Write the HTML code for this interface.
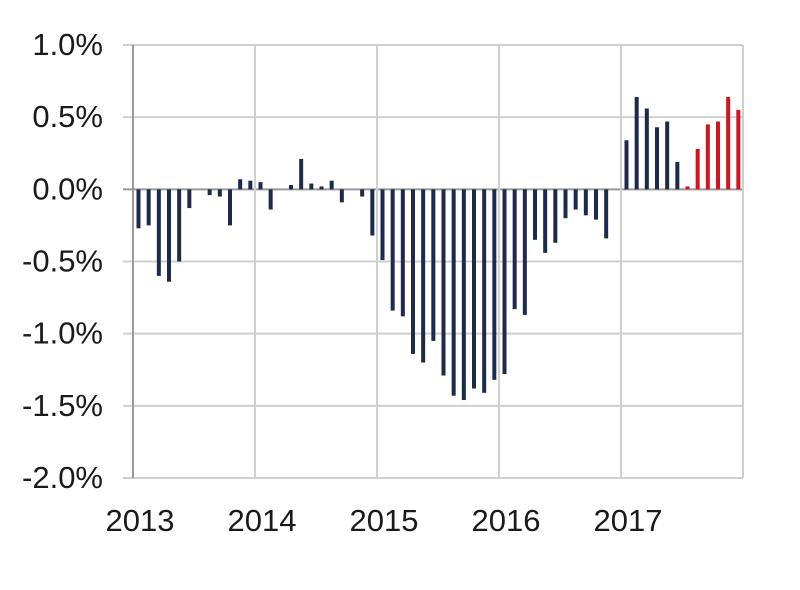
<!DOCTYPE html>
<html><head><meta charset="utf-8"><style>
body{margin:0;background:#fff;}
svg text{font-family:"Liberation Sans",sans-serif;font-size:31px;fill:#1a1a1a;}
</style></head><body>
<svg id="chart" width="800" height="585" viewBox="0 0 800 585" xmlns="http://www.w3.org/2000/svg">
<g id="grid"></g>
<g id="bars"></g>
<g id="axes"></g>
</svg>
<script>
const years = ["2013","2014","2015","2016","2017"];
const yTicks = [1.0,0.5,0.0,-0.5,-1.0,-1.5,-2.0];
const yTickLabels = ["1.0%","0.5%","0.0%","-0.5%","-1.0%","-1.5%","-2.0%"];
const values = [
-0.27,-0.25,-0.60,-0.64,-0.50,-0.13,0,-0.04,-0.05,-0.25,0.07,0.06,
0.05,-0.14,0,0.03,0.21,0.04,0.02,0.06,-0.09,0,-0.05,-0.32,
-0.49,-0.84,-0.88,-1.14,-1.20,-1.05,-1.29,-1.43,-1.46,-1.38,-1.41,-1.32,
-1.28,-0.83,-0.87,-0.35,-0.44,-0.37,-0.20,-0.14,-0.18,-0.21,-0.34,0,
0.34,0.64,0.56,0.43,0.47,0.19,0.02,0.28,0.45,0.47,0.64,0.55];
const forecastStart = 54;
const X0=133,X1=743,Y0=45,Y1=478,VMAX=1.0,VMIN=-2.0;
const months = values.length;
function xScale(i){return X0+(X1-X0)*i/months;}
function yScale(v){return Y0+(VMAX-v)/(VMAX-VMIN)*(Y1-Y0);}
const NS="http://www.w3.org/2000/svg";
function mk(tag,attrs,parent){const e=document.createElementNS(NS,tag);for(const k in attrs)e.setAttribute(k,attrs[k]);parent.appendChild(e);return e;}
const grid=document.getElementById('grid'),bars=document.getElementById('bars'),axes=document.getElementById('axes');
yTicks.forEach((t,i)=>{
  const y=yScale(t);
  const l=mk('line',{x1:X0-10,x2:X1,y1:y,y2:y,stroke:t===0?'#999':'#cfcfcf','stroke-width':2},grid);
  
  
  const tx=mk('text',{x:103,y:y+10,'text-anchor':'end'},axes);
  tx.textContent=yTickLabels[i];
  
  
});
for(let k=0;k<=years.length;k++){
  const x=xScale(k*12);
  const l=mk('line',{x1:x,x2:x,y1:Y0,y2:Y1,stroke:k===0?'#999':'#cfcfcf','stroke-width':2},grid);
  
  
  if(k<years.length){
    const tx=mk('text',{x:x+7,y:531,'text-anchor':'middle'},axes);
    tx.textContent=years[k];
    
    
  }
}
values.forEach((v,i)=>{
  if(v===0)return;
  const cx=xScale(i)+5.5;
  const y0=yScale(0),y=yScale(v);
  const r=mk('rect',{x:cx-2,y:Math.min(y0,y),width:4,height:Math.abs(y-y0),fill:i>=forecastStart?'#d3141c':'#1c2a4c'},bars);
  
  
});
</script>
</body></html>
